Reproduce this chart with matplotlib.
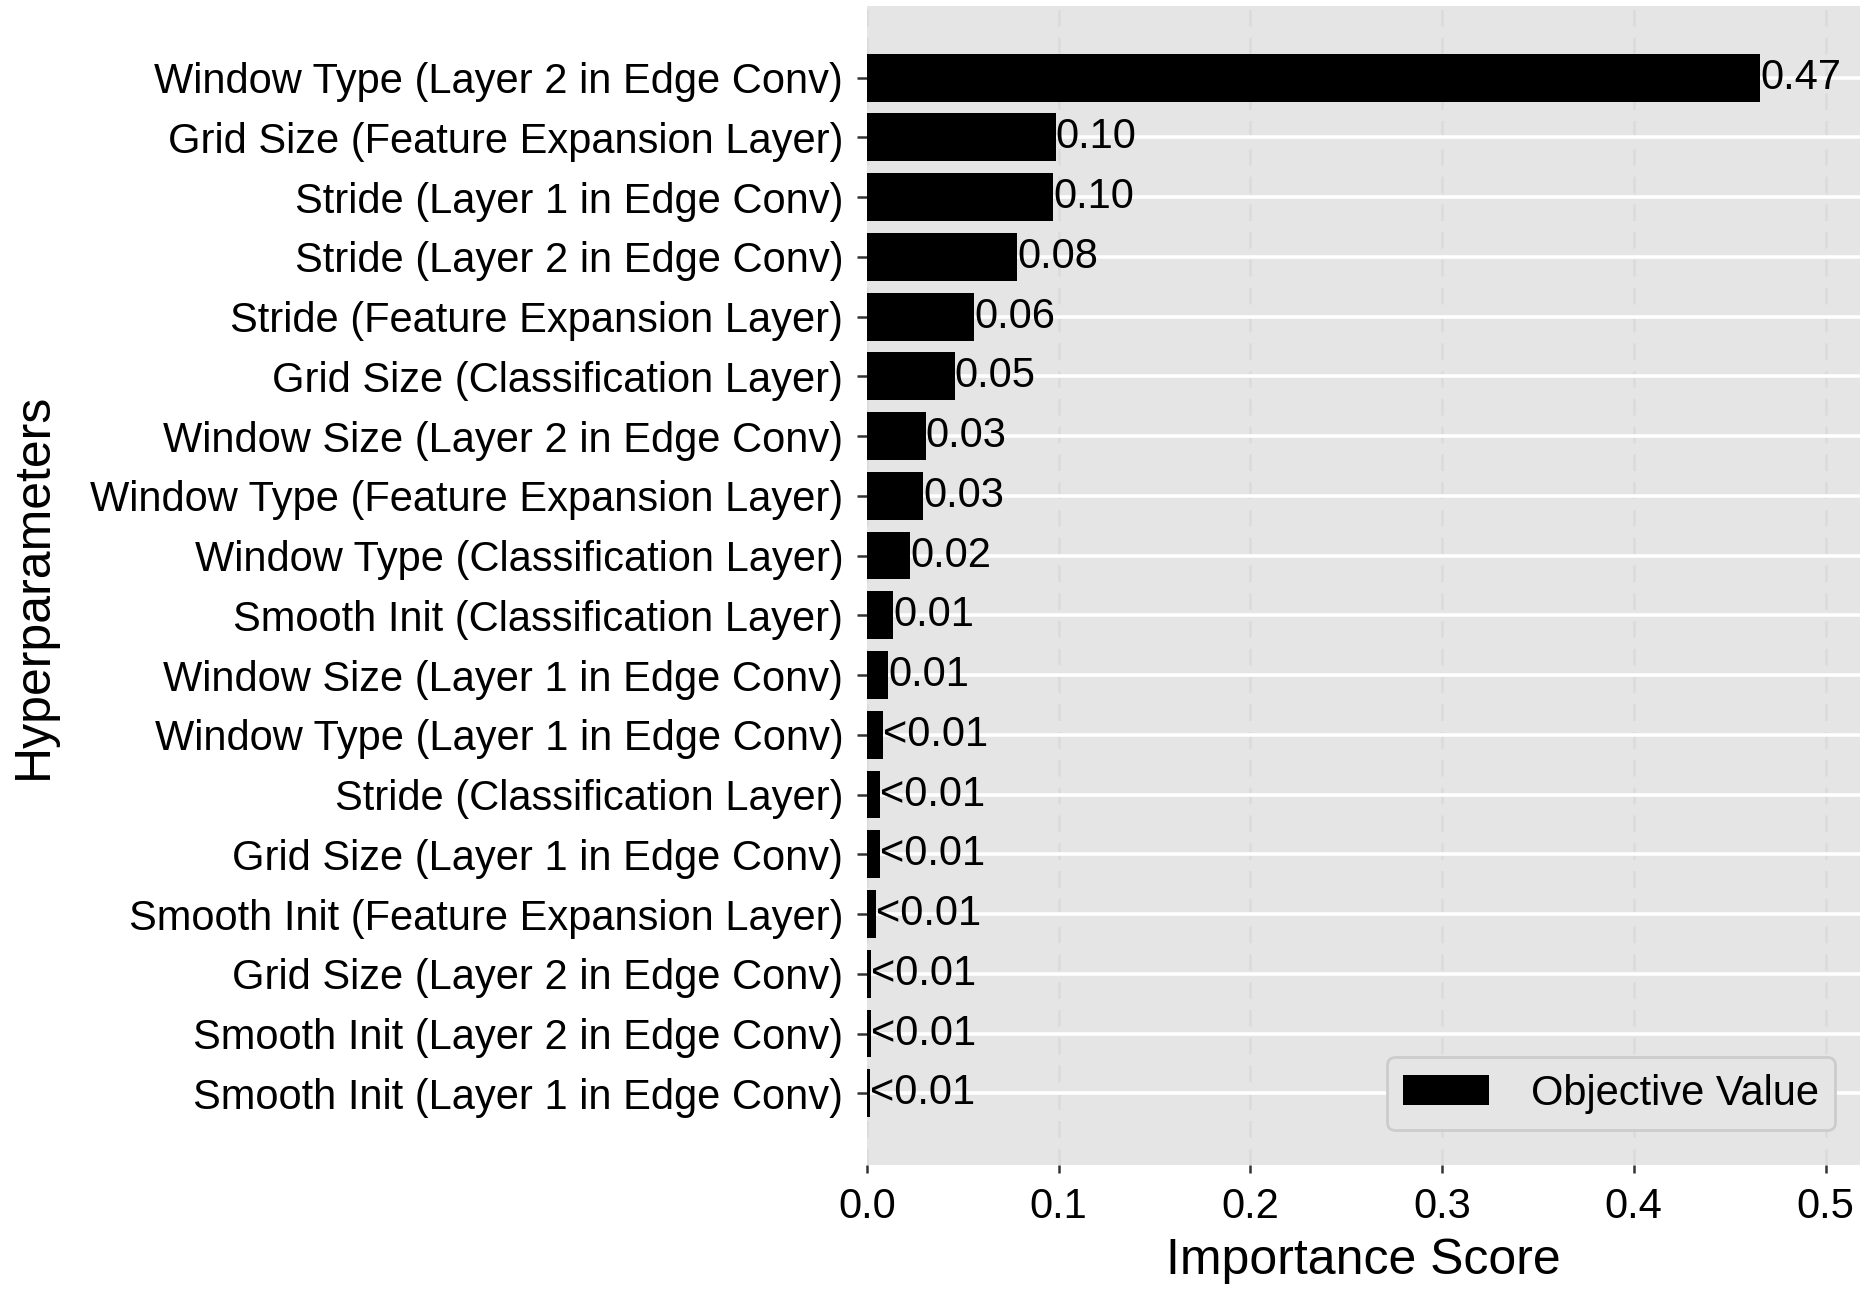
import matplotlib
matplotlib.use("Agg")
import matplotlib.pyplot as plt
import numpy as np

plt.rcParams["font.family"] = ["Liberation Sans", "DejaVu Sans"]

# top to bottom, as shown in the chart
HYPERPARAMETERS = [
    "Window Type (Layer 2 in Edge Conv)",
    "Grid Size (Feature Expansion Layer)",
    "Stride (Layer 1 in Edge Conv)",
    "Stride (Layer 2 in Edge Conv)",
    "Stride (Feature Expansion Layer)",
    "Grid Size (Classification Layer)",
    "Window Size (Layer 2 in Edge Conv)",
    "Window Type (Feature Expansion Layer)",
    "Window Type (Classification Layer)",
    "Smooth Init (Classification Layer)",
    "Window Size (Layer 1 in Edge Conv)",
    "Window Type (Layer 1 in Edge Conv)",
    "Stride (Classification Layer)",
    "Grid Size (Layer 1 in Edge Conv)",
    "Smooth Init (Feature Expansion Layer)",
    "Grid Size (Layer 2 in Edge Conv)",
    "Smooth Init (Layer 2 in Edge Conv)",
    "Smooth Init (Layer 1 in Edge Conv)",
]
IMPORTANCE = [
    0.466, 0.0985, 0.0972, 0.0784, 0.0558, 0.0458, 0.0307, 0.0295, 0.0226,
    0.0136, 0.0110, 0.0083, 0.0068, 0.0067, 0.0048, 0.0022, 0.0019, 0.0016,
]
X_TICKS = [0.0, 0.1, 0.2, 0.3, 0.4, 0.5]


def fmt_value(v: float) -> str:
    return "<0.01" if v < 0.01 else f"{v:.2f}"


def main():
    fig = plt.figure(figsize=(9.33, 6.46), dpi=200)
    ax = fig.add_axes([0.4646, 0.0983, 0.5322, 0.8971])
    ax.set_facecolor("#e5e5e5")

    names = HYPERPARAMETERS[::-1]
    values = IMPORTANCE[::-1]
    y = np.arange(len(names))

    ax.set_axisbelow(True)
    ax.grid(axis="y", color="white", linewidth=1.3, linestyle="-")
    ax.grid(axis="x", color="#dcdcdc", linewidth=1.0, linestyle=(0, (6, 4)))

    ax.barh(y, values, height=0.8, color="black", label="Objective Value", zorder=2)
    for yi, v in zip(y, values):
        ax.text(v, yi, fmt_value(v), va="center", ha="left", fontsize=15, zorder=3)

    ax.set_yticks(y)
    ax.set_yticklabels(names, fontsize=15)
    ax.set_xticks(X_TICKS)
    ax.set_xticklabels([f"{t:.1f}" for t in X_TICKS], fontsize=15)
    ax.set_xlim(0, 0.518)
    ax.set_ylim(-1.2, len(names) - 1 + 1.2)

    for side in ["top", "right", "left", "bottom"]:
        ax.spines[side].set_visible(False)
    ax.tick_params(axis="y", length=3.5, width=0.9, color="#333333", pad=5)
    ax.tick_params(axis="x", length=3, width=0.9, color="#333333", pad=5)

    ax.set_xlabel("Importance Score", fontsize=18, labelpad=4)
    ax.set_ylabel("Hyperparameters", fontsize=18, labelpad=12)

    leg = ax.legend(loc="lower right", fontsize=15, frameon=True, fancybox=True,
                    borderpad=0.4, handlelength=2.05, handletextpad=1.0,
                    borderaxespad=0.5, bbox_to_anchor=(0.996, 0.012))
    leg.get_frame().set_facecolor("#e5e5e5")
    leg.get_frame().set_edgecolor("#cccccc")
    leg.get_frame().set_alpha(1.0)

    fig.savefig("out.png", dpi=200)
    plt.close(fig)


if __name__ == "__main__":
    main()
